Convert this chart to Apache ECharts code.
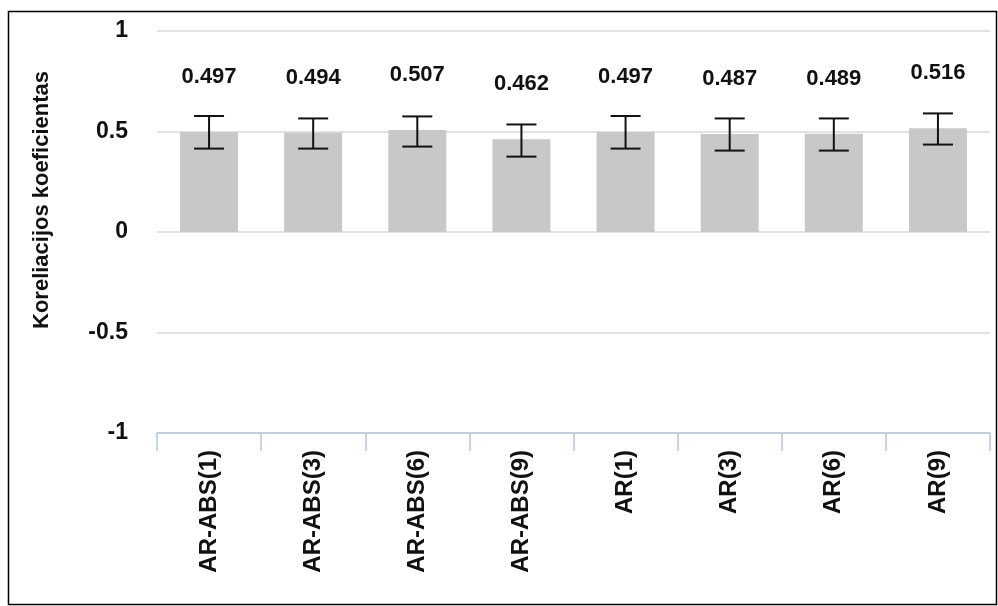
<!DOCTYPE html>
<html>
<head>
<meta charset="utf-8">
<script src="https://cdn.jsdelivr.net/npm/echarts@6/dist/echarts.min.js"></script>
<style>html,body{margin:0;padding:0;background:#fff}#c{width:998px;height:606px}</style>
</head>
<body>
<div id="c"></div>
<script>
const categories = ['AR-ABS(1)','AR-ABS(3)','AR-ABS(6)','AR-ABS(9)','AR(1)','AR(3)','AR(6)','AR(9)'];
const values = [0.497, 0.494, 0.507, 0.462, 0.497, 0.487, 0.489, 0.516];
const errLow = [0.415, 0.415, 0.425, 0.375, 0.415, 0.405, 0.405, 0.435];
const errHigh = [0.577, 0.565, 0.575, 0.535, 0.577, 0.565, 0.565, 0.59];
const yTicks = [-1, -0.5, 0, 0.5, 1];

const chart = echarts.init(document.getElementById('c'));
const font = 'Liberation Sans, Arial, sans-serif';
chart.setOption({
  animation: false,
  grid: {left: 157, right: 8, top: 31, bottom: 173},
  xAxis: {
    type: 'category',
    data: categories,
    position: 'bottom',
    axisLine: {onZero: false, lineStyle: {color: '#b8c7da', width: 1.5}},
    axisTick: {show: true, length: 18, alignWithLabel: false, lineStyle: {color: '#b8c7da', width: 1.5}},
    axisLabel: {rotate: 90, margin: 17, fontFamily: font, fontWeight: 'bold', fontSize: 24, color: '#111'}
  },
  yAxis: {
    type: 'value',
    min: -1, max: 1, interval: 0.5,
    axisLine: {show: false},
    axisTick: {show: false},
    splitLine: {lineStyle: {color: '#d9d9d9', width: 1.5}},
    axisLabel: {margin: 29, fontFamily: font, fontWeight: 'bold', fontSize: 23, color: '#111',
      formatter: v => yTicks.includes(v) ? String(v) : ''}
  },
  graphic: [
    {type: 'rect', shape: {x: 8.5, y: 11.5, width: 988, height: 593}, style: {fill: 'none', stroke: '#000', lineWidth: 1.5}, silent: true},
    {type: 'text', x: 42, y: 200, rotation: Math.PI/2,
     style: {text: 'Koreliacijos koeficientas', fontFamily: font, fontWeight: 'bold', fontSize: 22, fill: '#111', align: 'center', verticalAlign: 'middle'}}
  ],
  series: [
    {
      type: 'bar',
      data: values,
      barWidth: 58,
      itemStyle: {color: '#c8c8c8'},
      label: {show: true, position: 'top', distance: 44, fontFamily: font, fontWeight: 'bold', fontSize: 22, color: '#111',
        formatter: p => p.value.toFixed(3)}
    },
    {
      type: 'custom',
      data: categories.map((c, i) => [i, errLow[i], errHigh[i]]),
      renderItem: function (params, api) {
        const lo = api.coord([api.value(0), api.value(1)]);
        const hi = api.coord([api.value(0), api.value(2)]);
        const hw = 15;
        const st = {stroke: '#111', lineWidth: 2};
        return {type: 'group', children: [
          {type: 'line', shape: {x1: hi[0], y1: hi[1], x2: lo[0], y2: lo[1]}, style: st},
          {type: 'line', shape: {x1: hi[0]-hw, y1: hi[1], x2: hi[0]+hw, y2: hi[1]}, style: st},
          {type: 'line', shape: {x1: lo[0]-hw, y1: lo[1], x2: lo[0]+hw, y2: lo[1]}, style: st}
        ]};
      },
      z: 5
    }
  ]
});
</script>
</body>
</html>
